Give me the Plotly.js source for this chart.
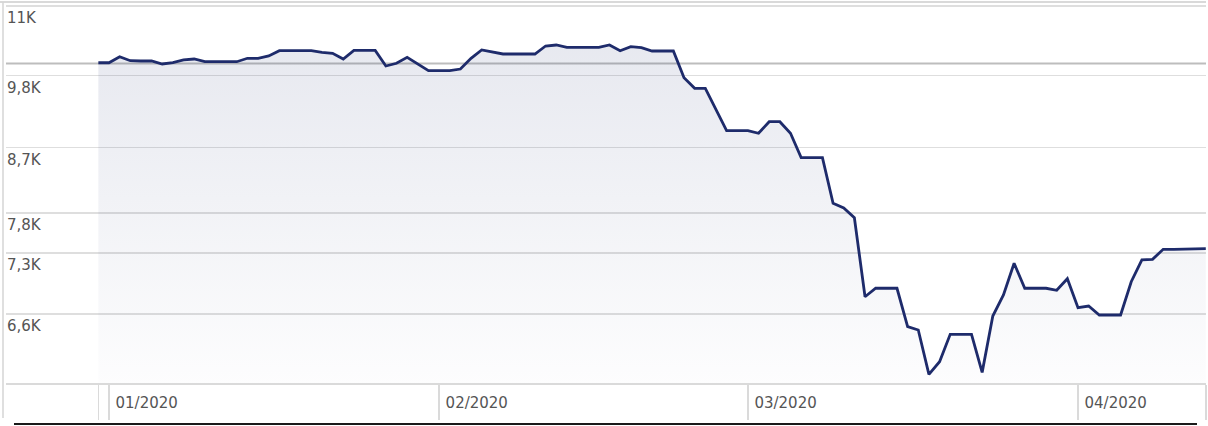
<!DOCTYPE html>
<html><head><meta charset="utf-8">
<script src="https://cdn.plot.ly/plotly-3.0.1.min.js"></script>
<style>html,body{margin:0;padding:0;background:#fff;overflow:hidden;} #chart{width:1208px;height:426px;}</style>
</head><body><div id="chart"></div>
<script>
const dates = [
'2019-12-31',
'2020-01-01','2020-01-02','2020-01-03','2020-01-04','2020-01-05','2020-01-06','2020-01-07','2020-01-08','2020-01-09','2020-01-10',
'2020-01-11','2020-01-12','2020-01-13','2020-01-14','2020-01-15','2020-01-16','2020-01-17','2020-01-18','2020-01-19','2020-01-20',
'2020-01-21','2020-01-22','2020-01-23','2020-01-24','2020-01-25','2020-01-26','2020-01-27','2020-01-28','2020-01-29','2020-01-30','2020-01-31',
'2020-02-01','2020-02-02','2020-02-03','2020-02-04','2020-02-05','2020-02-06','2020-02-07','2020-02-08','2020-02-09','2020-02-10',
'2020-02-11','2020-02-12','2020-02-13','2020-02-14','2020-02-15','2020-02-16','2020-02-17','2020-02-18','2020-02-19','2020-02-20',
'2020-02-21','2020-02-22','2020-02-23','2020-02-24','2020-02-25','2020-02-26','2020-02-27','2020-02-28','2020-02-29',
'2020-03-01','2020-03-02','2020-03-03','2020-03-04','2020-03-05','2020-03-06','2020-03-07','2020-03-08','2020-03-09','2020-03-10',
'2020-03-11','2020-03-12','2020-03-13','2020-03-14','2020-03-15','2020-03-16','2020-03-17','2020-03-18','2020-03-19','2020-03-20',
'2020-03-21','2020-03-22','2020-03-23','2020-03-24','2020-03-25','2020-03-26','2020-03-27','2020-03-28','2020-03-29','2020-03-30','2020-03-31',
'2020-04-01','2020-04-02','2020-04-03','2020-04-04','2020-04-05','2020-04-06','2020-04-07','2020-04-08','2020-04-09','2020-04-10',
'2020-04-11','2020-04-12','2020-04-13'
];
const values = [
10012, 10012,
10113, 10046, 10041, 10041,
9991, 10012, 10058, 10074, 10029, 10029, 10029,
10029, 10086, 10086, 10125, 10214, 10214, 10214,
10214, 10187, 10170, 10074, 10220, 10220, 10220,
9958, 10003, 10103, 9984, 9881, 9881, 9881,
9908, 10086, 10226, 10197, 10158, 10158, 10158,
10158, 10294, 10311, 10272, 10272, 10272, 10272,
10311, 10214, 10282, 10265, 10209, 10209, 10209,
9767, 9596, 9596, 9257, 8945, 8945, 8945,
8906, 9079, 9079, 8906, 8553, 8553, 8553,
7929, 7868, 7742, 6791, 6887, 6887, 6887,
6462, 6426, 5970, 6097, 6380, 6380, 6380,
5990, 6577, 6811, 7178, 6887, 6887, 6887,
6864, 6997, 6668, 6687, 6588, 6588, 6588,
6962, 7218, 7226, 7347, 7347, 7347, 7347,
7354
];
const yTickVals = [6600, 7300, 7800, 8700, 9800, 11000];
const yTickText = ['6,6K', '7,3K', '7,8K', '8,7K', '9,8K', '11K'];
const xTickVals = ['2019-12-31', '2020-01-01', '2020-02-01', '2020-03-01', '2020-04-01', '2020-04-13'];
const xTickText = ['', '01/2020', '02/2020', '03/2020', '04/2020', ''];
const referenceLevel = 10000;

const fontFam = 'DejaVu Sans, Verdana, sans-serif';

const refTrace = {
  x: [dates[0], dates[dates.length - 1]], y: [referenceLevel, referenceLevel],
  type: 'scatter', mode: 'lines', cliponaxis: true,
  line: {color: '#bdbdbd', width: 2}, hoverinfo: 'skip', showlegend: false
};

const trace = {
  x: dates, y: values, type: 'scatter', mode: 'lines',
  line: {color: '#1e2b6b', width: 2.8},
  fill: 'tozeroy',
  fillgradient: {type: 'vertical', start: 5890, stop: 10300,
    colorscale: [[0, 'rgba(30,45,110,0.01)'], [1, 'rgba(30,45,110,0.105)']]},
  hoverinfo: 'skip', showlegend: false
};

const layout = {
  width: 1208, height: 426,
  margin: {l: 6, r: 2, t: 2, b: 43, pad: 0},
  paper_bgcolor: '#fff', plot_bgcolor: '#fff',
  showlegend: false,
  xaxis: {
    type: 'date',
    range: ['2019-12-22 07:51', '2020-04-13 00:30'],
    tickmode: 'array', tickvals: xTickVals, ticktext: xTickText,
    ticks: 'outside', ticklen: 35, tickwidth: 1.5, tickcolor: '#dadada',
    ticklabelposition: 'outside right',
    ticklabelstandoff: 5, ticklabelshift: 5,
    showgrid: false, zeroline: false,
    showline: true, linecolor: '#dadada', linewidth: 1.5,
    tickfont: {family: fontFam, size: 15, color: '#555'},
    fixedrange: true
  },
  yaxis: {
    type: 'log',
    range: [3.769779, 4.044275],
    tickmode: 'array', tickvals: yTickVals, ticktext: yTickText,
    ticks: '', ticklabelposition: 'inside', ticklabelshift: 12, ticklabelstandoff: -2,
    showgrid: true, gridcolor: '#dedede', gridwidth: 1.5,
    zeroline: false, showline: false,
    tickfont: {family: fontFam, size: 15, color: '#555'},
    fixedrange: true
  },
  shapes: [
    {type: 'line', xref: 'paper', yref: 'y', x0: 0, x1: 1, y0: referenceLevel, y1: referenceLevel, line: {color: '#bdbdbd', width: 2}, layer: 'below'},
    {type: 'line', xref: 'paper', yref: 'paper', x0: -0.005, x1: 1, y0: 1, y1: 1, line: {color: '#cdcdcd', width: 1.5}},
    {type: 'line', xref: 'paper', yref: 'paper', x0: -0.0025, x1: -0.0025, y0: 1, y1: -0.0919, line: {color: '#d5d5d5', width: 1.5}},
    {type: 'line', xref: 'paper', yref: 'paper', x0: 0.00667, x1: 0.9925, y0: -0.1076, y1: -0.1076, line: {color: '#1a1a1a', width: 2}}
  ]
};

Plotly.newPlot('chart', [trace], layout, {staticPlot: true, displayModeBar: false});
</script>
</body></html>
